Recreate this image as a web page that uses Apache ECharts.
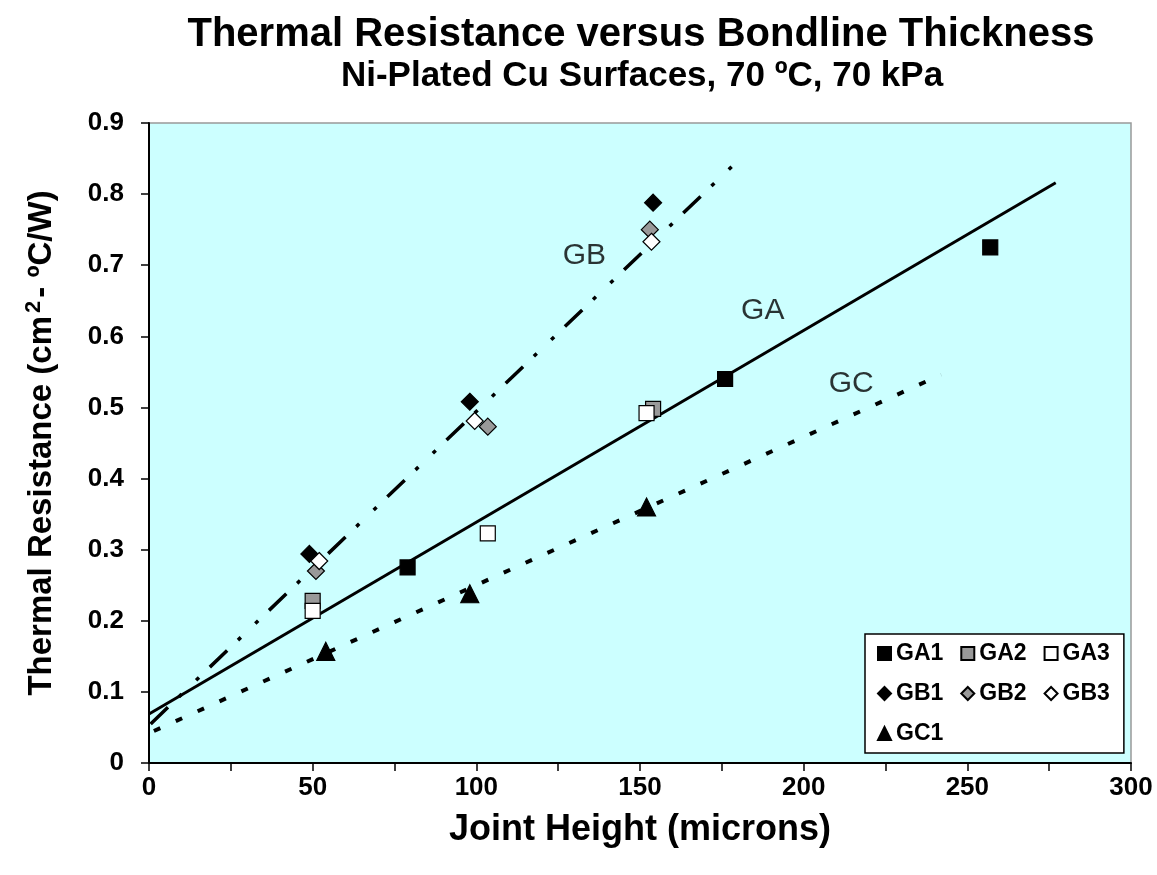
<!DOCTYPE html>
<html>
<head>
<meta charset="utf-8">
<title>Thermal Resistance versus Bondline Thickness</title>
<script src="https://cdn.jsdelivr.net/npm/echarts@6/dist/echarts.min.js"></script>
<style>
  html, body { margin: 0; padding: 0; background: #fff; }
  #main { width: 1157px; height: 875px; }
</style>
</head>
<body>
<div id="main"></div>
<script>
// measured points, [joint height (microns), thermal resistance]
var ga1 = [[79, 0.275], [176, 0.54], [257, 0.725]];
var ga2 = [[50, 0.228], [154, 0.498]];
var ga3 = [[50, 0.214], [103.5, 0.323], [152, 0.492]];
var gb1 = [[49, 0.294], [98, 0.508], [154, 0.788]];
var gb2 = [[51, 0.27], [103.5, 0.473], [153, 0.75]];
var gb3 = [[52, 0.284], [99.5, 0.481], [153.5, 0.733]];
var gc1 = [[54, 0.157], [98, 0.238], [152, 0.36]];

// fitted trend lines (end points)
var gaFit = [[0, 0.069], [277, 0.816]];
var gbFit = [[0.5, 0.055], [179, 0.843]];
var gcFit = [[1.5, 0.045], [242, 0.546]];

// labels next to the lines
var fitNames = ['GA', 'GB', 'GC'];
var fitLabelPos = [[187.5, 0.636], [133, 0.714], [214.5, 0.533]];

var legendNames = ['GA1', 'GA2', 'GA3', 'GB1', 'GB2', 'GB3', 'GC1'];
var xTicks = [0, 300, 50];
var yTicks = [0, 0.9, 0.1];

(function(){
    var dom = document.getElementById('main');
    var myChart = echarts.init(dom);
    var font = 'Liberation Sans, Arial, sans-serif';

    function pts(name, data, symbol, size, fill) {
        return {
            name: name,
            type: 'scatter',
            data: data,
            symbol: symbol,
            symbolSize: size,
            z: 5,
            itemStyle: {
                color: fill,
                borderColor: '#000',
                borderWidth: 1.2,
                opacity: 1
            }
        };
    }

    function fit(data, type, width) {
        return {
            type: 'line',
            data: data,
            showSymbol: false,
            symbol: 'none',
            silent: true,
            z: 3,
            lineStyle: { color: '#000', width: width, type: type }
        };
    }

    var labelData = fitLabelPos.map(function (p, i) {
        return [p[0], p[1], fitNames[i]];
    });

    var option = {
        animation: false,
        backgroundColor: '#fff',
        textStyle: { fontFamily: font },
        title: [{
            text: 'Thermal Resistance versus Bondline Thickness',
            left: 636,
            textAlign: 'center',
            top: 10,
            textStyle: { fontSize: 40, fontWeight: 'bold', color: '#000', fontFamily: font }
        }, {
            text: 'Ni-Plated Cu Surfaces, 70 ºC, 70 kPa',
            left: 637,
            textAlign: 'center',
            top: 54,
            textStyle: { fontSize: 35, fontWeight: 'bold', color: '#000', fontFamily: font }
        }],
        grid: {
            left: 149,
            top: 123,
            width: 982,
            height: 640,
            show: true,
            backgroundColor: '#CCFFFF',
            borderColor: '#999',
            borderWidth: 1.5
        },
        legend: {
            data: legendNames,
            left: 865,
            top: 634,
            width: 245,
            orient: 'horizontal',
            padding: [8, 14, 8, 12],
            itemGap: 17,
            itemWidth: 13,
            itemHeight: 13,
            backgroundColor: '#fff',
            borderColor: '#000',
            borderWidth: 1.5,
            textStyle: { fontSize: 23, fontWeight: 'bold', color: '#000', fontFamily: font, padding: [0, 3, 0, 0] }
        },
        xAxis: {
            type: 'value',
            min: xTicks[0],
            max: xTicks[1],
            interval: xTicks[2],
            name: 'Joint Height (microns)',
            nameLocation: 'middle',
            nameGap: 49,
            nameTextStyle: { fontSize: 36, fontWeight: 'bold', color: '#000', fontFamily: font },
            axisLine: { lineStyle: { color: '#000', width: 2 } },
            axisTick: { show: true, length: 8, lineStyle: { color: '#000', width: 1.5 } },
            minorTick: { show: true, splitNumber: 2, length: 8, lineStyle: { color: '#000', width: 1.5 } },
            splitLine: { show: false },
            axisLabel: { fontSize: 26, fontWeight: 'bold', color: '#000', margin: 12, fontFamily: font }
        },
        yAxis: {
            type: 'value',
            min: yTicks[0],
            max: yTicks[1],
            interval: yTicks[2],
            name: '{a|Thermal Resistance (cm}{s|2}{a|- ºC/W)}',
            nameLocation: 'middle',
            nameGap: 88,
            nameTextStyle: {
                fontFamily: font,
                rich: {
                    a: { fontSize: 33, fontWeight: 'bold', color: '#000', fontFamily: font },
                    s: { fontSize: 22, fontWeight: 'bold', color: '#000', fontFamily: font, verticalAlign: 'top', padding: [0, 3, 16, 3] }
                }
            },
            axisLine: { show: true, lineStyle: { color: '#000', width: 2 } },
            axisTick: { show: true, length: 8, lineStyle: { color: '#000', width: 1.5 } },
            splitLine: { show: false },
            axisLabel: { fontSize: 26, fontWeight: 'bold', color: '#000', margin: 25, fontFamily: font }
        },
        series: [
            fit(gaFit, 'solid', 3),
            fit(gbFit, [24, 15, 4, 20, 4, 15], 3.5),
            fit(gcFit, [7, 17], 4),
            pts('GA1', ga1, 'rect', 15, '#000'),
            pts('GA2', ga2, 'rect', 15, '#999'),
            pts('GA3', ga3, 'rect', 15, '#fff'),
            pts('GB1', gb1, 'diamond', 17, '#000'),
            pts('GB2', gb2, 'diamond', 17, '#999'),
            pts('GB3', gb3, 'diamond', 17, '#fff'),
            pts('GC1', gc1, 'triangle', 18, '#000'),
            {
                type: 'scatter',
                data: labelData,
                symbolSize: 0,
                silent: true,
                z: 4,
                label: {
                    show: true,
                    position: 'inside',
                    formatter: function (p) { return p.value[2]; },
                    fontSize: 30,
                    color: '#000',
                    fontFamily: font
                }
            }
        ]
    };

    if (option && typeof option === "object") {
        myChart.setOption(option, true);
    }
    window.onresize = function(){
        myChart.resize();
    };
})();
</script>
</body>
</html>
